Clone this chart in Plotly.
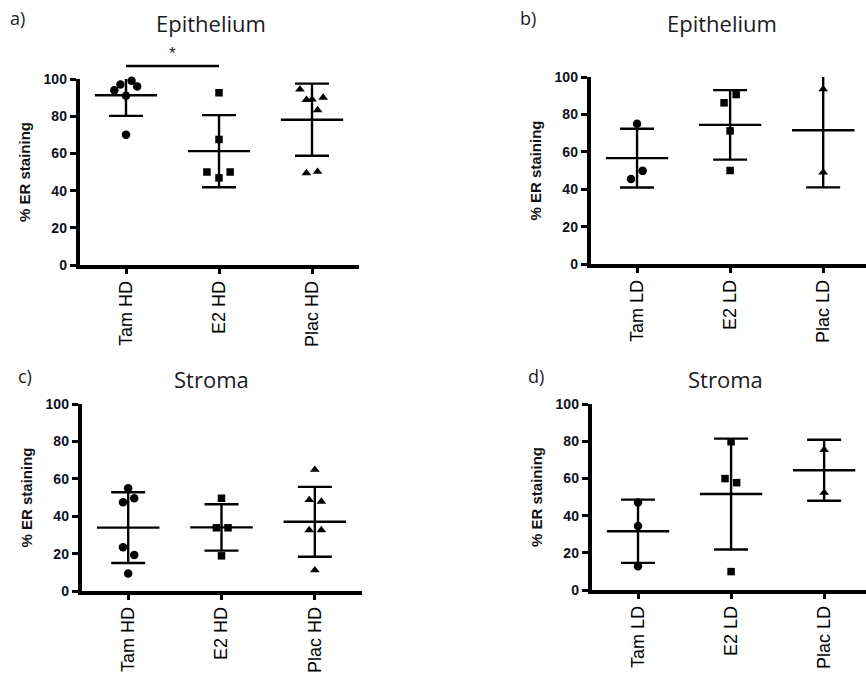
import plotly.graph_objects as go

W, H = 866, 680

# ---------------- data ----------------
hd_labels = ["Tam HD", "E2 HD", "Plac HD"]
ld_labels = ["Tam LD", "E2 LD", "Plac LD"]

# a) Epithelium, high dose
epi_hd_tam = [94, 97, 99, 96, 91, 70]
epi_hd_e2 = [92.6, 67.5, 50, 50, 46.8]
epi_hd_plac = [94.4, 88.8, 89, 90, 83.3, 49.4, 50.2]
epi_hd_mean = [91.3, 61.2, 78.1]
epi_hd_sd = [11.1, 19.4, 19.4]

# b) Epithelium, low dose
epi_ld_tam = [75, 49.8, 45.5]
epi_ld_e2 = [86.2, 90.6, 71.2, 50]
epi_ld_plac = [93.5, 49]
epi_ld_mean = [56.6, 74.4, 71.5]
epi_ld_sd = [15.7, 18.6, 30.5]

# c) Stroma, high dose
str_hd_tam = [54.9, 47.4, 49.6, 23.4, 19.3, 9.3]
str_hd_e2 = [49.6, 33.8, 33.8, 18.8]
str_hd_plac = [64.9, 48.7, 47.8, 32.6, 32.6, 11.1]
str_hd_mean = [33.9, 34.0, 37.0]
str_hd_sd = [18.9, 12.4, 18.7]

# d) Stroma, low dose
str_ld_tam = [47.1, 34.4, 12.8]
str_ld_e2 = [79.7, 59.9, 57.7, 9.9]
str_ld_plac = [75.4, 52.3]
str_ld_mean = [31.6, 51.6, 64.4]
str_ld_sd = [17.0, 29.8, 16.4]

# horizontal scatter offsets of the dots (category units)
epi_hd_jit = [[-0.125, -0.06, 0.06, 0.12, 0, 0],
              [0, 0, -0.13, 0.12, 0],
              [-0.13, -0.06, 0, 0.12, 0.06, -0.06, 0.06]]
epi_ld_jit = [[0, 0.06, -0.065], [-0.065, 0.065, 0, 0], [0, 0]]
str_hd_jit = [[0, -0.055, 0.065, -0.055, 0.065, 0],
              [0, -0.055, 0.07, 0],
              [0, -0.06, 0.07, -0.06, 0.07, 0]]
str_ld_jit = [[0, 0, 0], [0, -0.065, 0.06, 0], [0, 0]]

sig_level = 107  # significance bar height (in % units) for panel a

# ---------------- figure ----------------
symbols = ["circle", "square", "triangle-up"]
sizes = [8.5, 7.5, 8.5]
SANS = "Arial, 'Liberation Sans', sans-serif"

panels = [
    dict(ax="", title="Epithelium", letter="a)", labels=hd_labels,
         groups=[epi_hd_tam, epi_hd_e2, epi_hd_plac], mean=epi_hd_mean, sd=epi_hd_sd, jit=epi_hd_jit,
         xdom=(79.5, 358.5), xr=(-0.5, 2.5), ydom=(265, 79),
         tpos=(211, 23), lpos=(17, 18)),
    dict(ax="2", title="Epithelium", letter="b)", labels=ld_labels,
         groups=[epi_ld_tam, epi_ld_e2, epi_ld_plac], mean=epi_ld_mean, sd=epi_ld_sd, jit=epi_ld_jit,
         xdom=(590.5, 866), xr=(-0.5, 2.46), ydom=(264, 77),
         tpos=(722, 23), lpos=(528, 18)),
    dict(ax="3", title="Stroma", letter="c)", labels=hd_labels,
         groups=[str_hd_tam, str_hd_e2, str_hd_plac], mean=str_hd_mean, sd=str_hd_sd, jit=str_hd_jit,
         xdom=(81.5, 361.5), xr=(-0.5, 2.5), ydom=(591, 404),
         tpos=(211, 379), lpos=(25, 376)),
    dict(ax="4", title="Stroma", letter="d)", labels=ld_labels,
         groups=[str_ld_tam, str_ld_e2, str_ld_plac], mean=str_ld_mean, sd=str_ld_sd, jit=str_ld_jit,
         xdom=(591.5, 866), xr=(-0.5, 2.45), ydom=(590, 404),
         tpos=(725, 379), lpos=(536, 376)),
]

fig = go.Figure()
annotations = []
shapes = []
half = 0.335

for p in panels:
    xa = "x" + p["ax"]
    ya = "y" + p["ax"]
    # dots
    for i, vals in enumerate(p["groups"]):
        fig.add_trace(go.Scatter(
            x=[i + j for j in p["jit"][i]], y=vals, mode="markers",
            marker=dict(symbol=symbols[i], size=sizes[i], color="black", line=dict(width=0)),
            xaxis=xa, yaxis=ya, showlegend=False, cliponaxis=False, hoverinfo="skip"))
    # mean lines
    mx, my = [], []
    for i, m in enumerate(p["mean"]):
        mx += [i - half, i + half, None]
        my += [m, m, None]
    fig.add_trace(go.Scatter(x=mx, y=my, mode="lines", line=dict(color="black", width=2.4),
                             xaxis=xa, yaxis=ya, showlegend=False, hoverinfo="skip"))
    # SD error bars
    fig.add_trace(go.Scatter(
        x=list(range(3)), y=p["mean"], mode="markers",
        marker=dict(size=1, color="rgba(0,0,0,0)"),
        error_y=dict(type="data", array=p["sd"], visible=True, color="black", thickness=2.4, width=17),
        xaxis=xa, yaxis=ya, showlegend=False, hoverinfo="skip"))

    xd = (p["xdom"][0] / W, min(1.0, p["xdom"][1] / W))
    yd = (1 - p["ydom"][0] / H, 1 - p["ydom"][1] / H)
    xkey = "xaxis" + p["ax"]
    ykey = "yaxis" + p["ax"]
    fig.layout[xkey] = dict(
        domain=xd, range=list(p["xr"]), anchor=ya, showgrid=False, zeroline=False,
        showline=True, linewidth=3.5, linecolor="black", mirror=False, automargin=False,
        ticks="outside", ticklen=5, tickwidth=3, tickcolor="black",
        tickmode="array", tickvals=[0, 1, 2], ticktext=p["labels"], tickangle=-90,
        tickfont=dict(family=SANS, size=18, color="black"),
        fixedrange=True)
    fig.layout[ykey] = dict(
        domain=yd, range=[0, 100], anchor=xa, showgrid=False, zeroline=False,
        showline=True, linewidth=3.5, linecolor="black", automargin=False,
        ticks="outside", ticklen=6, tickwidth=2.5, tickcolor="black",
        tickmode="array", tickvals=[0, 20, 40, 60, 80, 100],
        tickfont=dict(family=SANS, size=14, color="#111122", weight="bold"),
        title=dict(text="% ER staining", standoff=10,
                   font=dict(family=SANS, size=15, color="#111111", weight="bold")),
        fixedrange=True)

    annotations.append(dict(text=p["title"], x=p["tpos"][0] / W, y=1 - p["tpos"][1] / H,
                            xref="paper", yref="paper", showarrow=False, xanchor="center", yanchor="middle",
                            font=dict(family="Open Sans", size=22, color="#1a1a24")))
    annotations.append(dict(text=p["letter"], x=p["lpos"][0] / W, y=1 - p["lpos"][1] / H,
                            xref="paper", yref="paper", showarrow=False, xanchor="center", yanchor="middle",
                            font=dict(family="Open Sans", size=18, color="#1a1a24")))

# significance bar between Tam HD and E2 HD (panel a)
shapes.append(dict(type="line", xref="x", yref="y domain", x0=0, x1=1,
                   y0=sig_level / 100, y1=sig_level / 100, line=dict(color="black", width=2.4)))
annotations.append(dict(text="*", x=0.5, y=sig_level / 100, xref="x", yref="y domain", showarrow=False,
                        yanchor="bottom", yshift=1, font=dict(family=SANS, size=17, color="#222")))

fig.update_layout(width=W, height=H, margin=dict(l=0, r=0, t=0, b=0, autoexpand=False),
                  paper_bgcolor="white", plot_bgcolor="white",
                  annotations=annotations, shapes=shapes, showlegend=False)

fig.write_html("out.html")
